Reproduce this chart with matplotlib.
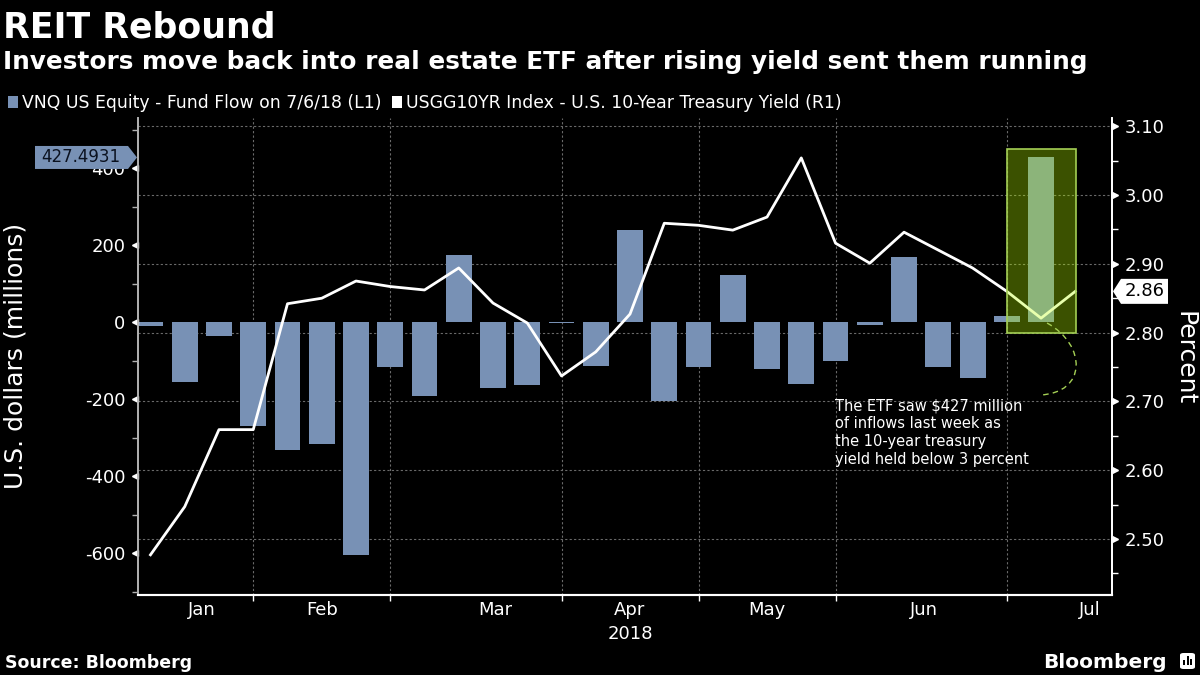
import numpy as np
import pandas as pd
import matplotlib
matplotlib.use("Agg")
import matplotlib.pyplot as plt
import matplotlib.dates as mdates
from matplotlib.patches import Rectangle, Polygon, PathPatch, FancyBboxPatch
from matplotlib.path import Path
from matplotlib.transforms import blended_transform_factory, ScaledTranslation

# --- data ---
flow_weeks = pd.date_range("2018-01-05", periods=27, freq="7D")
fund_flow = [-11, -157, -37, -271, -332, -318, -604, -118, -191, 175,
             -172, -163, -2, -113, 240, -206, -118, 122, -123, -160,
             -100, -7, 169, -118, -145, 16, 427.4931]

yield_weeks = list(flow_weeks) + [pd.Timestamp("2018-07-13")]
treasury_yield = [2.477, 2.547, 2.659, 2.659, 2.842, 2.850, 2.875, 2.867, 2.862, 2.894,
                  2.843, 2.814, 2.737, 2.772, 2.827, 2.959, 2.956, 2.949, 2.968, 3.054,
                  2.930, 2.901, 2.946, 2.920, 2.894, 2.860, 2.821, 2.86]

grid_dates = pd.to_datetime(["2018-01-26", "2018-02-23", "2018-03-30",
                             "2018-04-27", "2018-05-25", "2018-06-29"])
month_labels = ["Jan", "Feb", "Mar", "Apr", "May", "Jun", "Jul"]
month_label_dates = pd.to_datetime(["2018-01-15 12:00", "2018-02-09 00:00", "2018-03-16 12:00",
                                    "2018-04-13 00:00", "2018-05-11 00:00", "2018-06-12 00:00",
                                    "2018-07-16 00:00"])
left_ticks = [-600, -400, -200, 0, 200, 400]
left_minor = [-700, -500, -300, -100, 100, 300, 500]
right_ticks = [2.50, 2.60, 2.70, 2.80, 2.90, 3.00, 3.10]
right_minor = [2.45, 2.55, 2.65, 2.75, 2.85, 2.95, 3.05]

BG = "black"
BAR = "#7891b5"
GRID = "#6a6a6a"
GREEN = "#a4cf55"
W, H = 1200, 675

fig = plt.figure(figsize=(12, 6.75), dpi=100, facecolor=BG)
ax = fig.add_axes([138 / W, 80 / H, 974 / W, 477 / H])
ax.set_facecolor(BG)
ax2 = ax.twinx()

x0 = mdates.date2num(flow_weeks[0])
ax.set_xlim(x0 - 2.55, x0 + 196.5)
ax.set_ylim(-709, 530)
ax2.set_ylim(2.4186, 3.112)

# bars (left axis) and yield line (right axis)
ax.bar(mdates.date2num(flow_weeks), fund_flow, width=5.3, color=BAR, zorder=2)
ax2.plot(mdates.date2num(yield_weeks), treasury_yield, color="white", lw=2, zorder=3)

# grid: horizontal at right-axis ticks, vertical at month-end weeks, under the bars
hgrid = blended_transform_factory(ax.transAxes, ax2.transData)
for v in right_ticks:
    ax.plot([0, 1], [v, v], transform=hgrid, color=GRID, lw=0.8, ls=(0, (2, 2)), zorder=1)
for d in grid_dates:
    ax.axvline(mdates.date2num(d), color=GRID, lw=0.8, ls=(0, (2, 2)), zorder=1)

# spines
for a in (ax, ax2):
    a.spines["top"].set_visible(False)
    a.spines["left"].set_color("#b0b0b0")
    a.spines["right"].set_color("white")
    a.spines["bottom"].set_color("white")
    a.spines["left"].set_linewidth(1.3)
    a.spines["right"].set_linewidth(1.3)
    a.spines["bottom"].set_linewidth(1.5)

# x axis
ax.set_xticks(mdates.date2num(grid_dates))
ax.set_xticklabels([])
ax.set_xticks(mdates.date2num(month_label_dates), minor=True)
ax.set_xticklabels(month_labels, minor=True)
ax.tick_params(axis="x", which="major", length=4, color="white", width=1)
ax.tick_params(axis="x", which="minor", length=0, colors="white", labelsize=13, pad=4)
ax.text(mdates.date2num(month_label_dates[3]), -0.082, "2018", color="white", fontsize=13,
        ha="center", va="center", transform=blended_transform_factory(ax.transData, ax.transAxes))

# y axes
ax.set_yticks(left_ticks)
ax.set_yticklabels([f"{v:d}" for v in left_ticks])
ax.set_yticks(left_minor, minor=True)
ax.tick_params(axis="y", which="major", length=0, colors="white", labelsize=13, pad=9)
ax.tick_params(axis="y", which="minor", length=4, color="#b0b0b0", width=1)
ax2.set_yticks(right_ticks)
ax2.set_yticklabels([f"{v:.2f}" for v in right_ticks])
ax2.set_yticks(right_minor, minor=True)
ax2.tick_params(axis="y", which="major", length=0, colors="white", labelsize=13, pad=9)
ax2.tick_params(axis="y", which="minor", length=4, color="white", width=1)

# triangular major ticks
tl = blended_transform_factory(ax.transAxes, ax.transData) + ScaledTranslation(-3 / 100, 0, fig.dpi_scale_trans)
ax.plot(np.zeros(len(left_ticks)), left_ticks, ls="none", marker="<", ms=5, color="white",
        transform=tl, clip_on=False, zorder=6)
tr = blended_transform_factory(ax2.transAxes, ax2.transData) + ScaledTranslation(3 / 100, 0, fig.dpi_scale_trans)
ax2.plot(np.ones(len(right_ticks)), right_ticks, ls="none", marker=">", ms=5, color="white",
         transform=tr, clip_on=False, zorder=6)

# highlight box on the latest week
bx0 = mdates.date2num(pd.Timestamp("2018-06-29"))
bx1 = mdates.date2num(pd.Timestamp("2018-07-13 02:00"))
ax2.add_patch(Rectangle((bx0, 2.80), bx1 - bx0, 0.267, facecolor=(0.72, 1.0, 0.0), alpha=0.32,
                        edgecolor="none", zorder=5))
ax2.add_patch(Rectangle((bx0, 2.80), bx1 - bx0, 0.267, facecolor="none", edgecolor=GREEN,
                        lw=1.2, zorder=6))

# dashed callout arc
arc = Path([(0.9333, 0.5702), (0.9743, 0.5241), (0.9743, 0.4235), (0.9261, 0.4193)],
           [Path.MOVETO, Path.CURVE4, Path.CURVE4, Path.CURVE4])
ax2.add_patch(PathPatch(arc, transform=ax2.transAxes, facecolor="none", edgecolor=GREEN,
                        lw=1, ls=(0, (4, 3)), zorder=6, clip_on=False))
ax2.text(0.7156, 0.412, "The ETF saw $427 million\nof inflows last week as\nthe 10-year treasury\n"
         "yield held below 3 percent", transform=ax2.transAxes, color="white", fontsize=10.5,
         ha="left", va="top", linespacing=1.25, zorder=7)

# value tags on the axes
to_fig = fig.transFigure.inverted()
yl = to_fig.transform(ax.transData.transform((x0, fund_flow[-1])))[1]
ax_l = 138 / W
hh = 11.5 / H
fig.patches.append(Polygon([(35 / W, yl - hh), (128 / W, yl - hh), (ax_l - 1 / W, yl),
                            (128 / W, yl + hh), (35 / W, yl + hh)], closed=True,
                           facecolor=BAR, edgecolor="none", transform=fig.transFigure, zorder=10))
fig.text(81 / W, yl, f"{fund_flow[-1]:.4f}", color="#0b1220", fontsize=12, ha="center", va="center", zorder=11)

yr = to_fig.transform(ax2.transData.transform((x0, treasury_yield[-1])))[1]
ax_r = 1112 / W
hh = 12.5 / H
fig.patches.append(Polygon([(ax_r + 1 / W, yr), (1121 / W, yr + hh), (1168 / W, yr + hh),
                            (1168 / W, yr - hh), (1121 / W, yr - hh)], closed=True,
                           facecolor="white", edgecolor="none", transform=fig.transFigure, zorder=10))
fig.text(1145 / W, yr, f"{treasury_yield[-1]:.2f}", color="black", fontsize=13, ha="center", va="center", zorder=11)

# axis titles
fig.text(16 / W, 1 - 356 / H, "U.S. dollars (millions)", color="white", fontsize=18,
         rotation=90, ha="center", va="center")
fig.text(1185 / W, 1 - 358 / H, "Percent", color="white", fontsize=18,
         rotation=270, ha="center", va="center")

# titles and legend
fig.text(3 / W, 1 - 37 / H, "REIT Rebound", color="white", fontsize=25, fontweight="bold", va="baseline")
fig.text(3 / W, 1 - 69 / H, "Investors move back into real estate ETF after rising yield sent them running",
         color="white", fontsize=17.8, fontweight="bold", va="baseline")
fig.patches.append(Rectangle((8 / W, 1 - 108 / H), 10 / W, 12 / H, facecolor=BAR,
                             transform=fig.transFigure))
fig.text(22 / W, 1 - 108 / H, "VNQ US Equity - Fund Flow on 7/6/18 (L1)", color="white",
         fontsize=12.4, va="baseline")
fig.patches.append(Rectangle((392 / W, 1 - 108 / H), 10 / W, 12 / H, facecolor="white",
                             transform=fig.transFigure))
fig.text(406 / W, 1 - 108 / H, "USGG10YR Index - U.S. 10-Year Treasury Yield (R1)", color="white",
         fontsize=12.4, va="baseline")

# footer
fig.text(5 / W, 1 - 668 / H, "Source: Bloomberg", color="white", fontsize=12.5, fontweight="bold",
         va="baseline")
fig.text(1167 / W, 1 - 668 / H, "Bloomberg", color="white", fontsize=14.5, fontweight="bold",
         va="baseline", ha="right")
fig.patches.append(FancyBboxPatch((1180 / W, 1 - 669 / H), 15 / W, 16 / H,
                                  boxstyle="round,pad=0,rounding_size=0.003",
                                  facecolor="white", edgecolor="none", transform=fig.transFigure))
for i, hgt in enumerate([5, 9, 6]):
    fig.patches.append(Rectangle(((1183 + 3.5 * i) / W, 1 - 665 / H), 2 / W, hgt / H,
                                 facecolor="black", edgecolor="none", transform=fig.transFigure))

fig.savefig("out.png", dpi=100, facecolor=BG)
